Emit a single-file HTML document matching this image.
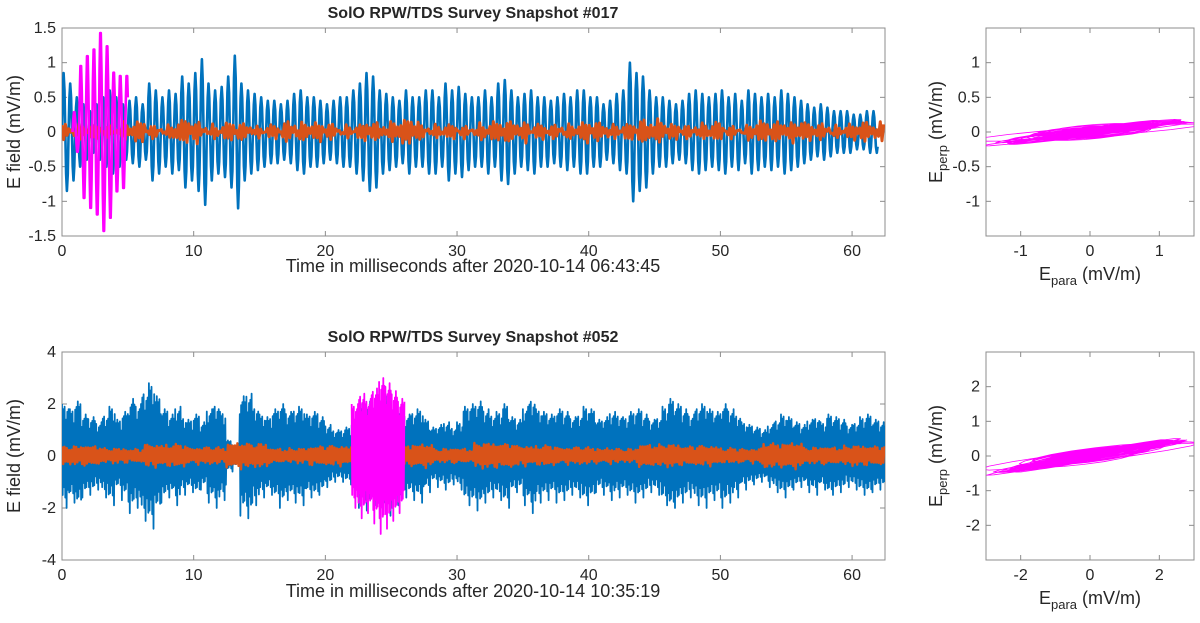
<!DOCTYPE html>
<html><head><meta charset="utf-8"><style>
body{margin:0;background:#fff;width:1200px;height:618px;overflow:hidden}
svg text{font-family:"Liberation Sans",Arial,sans-serif;fill:#262626}
</style></head><body>
<svg id="c" width="1200" height="618" viewBox="0 0 1200 618" xmlns="http://www.w3.org/2000/svg"></svg>
<script>
// ---- data (amplitudes, mV/m) ----
const topBlueAmp=[0.85,0.7,0.5,0.4,0.3,0.4,0.5,0.6,0.5,0.4,0.45,0.5,0.4,0.7,0.6,0.5,0.6,0.55,0.8,0.7,0.85,1.05,0.7,0.6,0.65,0.8,1.1,0.7,0.6,0.55,0.5,0.45,0.45,0.4,0.45,0.55,0.6,0.5,0.5,0.45,0.4,0.45,0.5,0.5,0.6,0.7,0.85,0.8,0.6,0.55,0.5,0.45,0.6,0.5,0.5,0.6,0.6,0.5,0.7,0.6,0.65,0.55,0.5,0.5,0.6,0.5,0.7,0.75,0.6,0.5,0.55,0.6,0.5,0.5,0.45,0.5,0.55,0.5,0.6,0.6,0.5,0.5,0.4,0.45,0.55,0.6,1.0,0.85,0.8,0.6,0.5,0.5,0.45,0.4,0.45,0.55,0.6,0.55,0.5,0.55,0.6,0.5,0.55,0.45,0.6,0.55,0.5,0.55,0.5,0.6,0.55,0.5,0.45,0.4,0.35,0.4,0.35,0.3,0.3,0.3,0.25,0.25,0.3,0.3];
const topOrangeAmp=[0.08,0.05,0.1,0.06,0.12,0.07,0.09,0.05,0.11,0.08,0.06,0.1,0.13,0.07,0.05,0.09,0.12,0.06,0.08,0.1,0.07,0.14,0.06,0.09,0.05,0.1,0.12,0.08,0.06,0.11];
const topMagentaStart=0.8, topMagentaPeriod=0.5;
const topMagentaAmp=[0.3,1.0,1.15,1.25,1.5,1.3,0.9,0.85,0.85];
const botBlueEnv=[2.0,1.8,2.1,1.6,1.5,1.3,1.6,1.9,1.4,1.7,2.2,2.0,2.5,2.8,2.3,1.8,1.6,1.9,1.5,1.4,1.6,1.3,1.8,2.0,1.7,0.6,0.4,2.3,2.4,1.9,1.6,1.5,1.8,2.0,1.7,1.8,1.9,1.6,1.7,1.5,1.2,1.0,1.0,1.1,1.4,2.0,2.1,1.9,2.0,2.3,1.8,1.9,1.6,1.7,1.8,1.4,1.1,1.2,1.3,1.1,1.3,1.9,2.0,2.1,1.8,1.6,1.7,2.0,1.5,1.4,1.9,2.2,1.8,1.7,1.6,1.8,1.7,1.5,1.6,1.9,1.8,1.4,1.5,1.7,1.6,1.5,1.7,1.8,1.6,1.4,1.5,1.9,2.2,2.0,1.8,1.6,1.9,2.0,1.8,1.7,2.0,1.8,1.6,1.3,1.2,1.1,1.0,1.2,1.4,1.6,1.5,1.3,1.2,1.4,1.5,1.3,1.6,1.5,1.4,1.2,1.3,1.5,1.6,1.4,1.3];
const botOrangeEnv=[0.35,0.25,0.4,0.3,0.45,0.25,0.35,0.3,0.4,0.25,0.45,0.35,0.3,0.25,0.4,0.35,0.25,0.45,0.3,0.35];
const botMagentaStart=22, botMagentaEnd=26;
const botMagentaEnv=[2.0,2.4,2.2,2.6,3.0,2.8,2.5,2.2];
const modulation=[1,0.75,0.9,0.6,0.95,0.8,0.7,1,0.85,0.65,0.9,0.78];
const offsets=[0.02,-0.05,0.04,0.0,-0.03,0.06,-0.02,0.03,-0.06,0.01,0.05,-0.04,0.0];
const xTicks=[0,10,20,30,40,50,60];
const topYTicks=[-1.5,-1,-0.5,0,0.5,1,1.5];
const botYTicks=[-4,-2,0,2,4];
const hodoTopTicks=[-1,-0.5,0,0.5,1];
const hodoTopX=[-1,0,1];
const hodoBotTicks=[-2,-1,0,1,2];
const hodoBotX=[-2,0,2];

const NS='http://www.w3.org/2000/svg';
const svg=document.getElementById('c');
function el(t,a,p){const e=document.createElementNS(NS,t);for(const k in a)e.setAttribute(k,a[k]);(p||svg).appendChild(e);return e;}
function lin(d0,d1,r0,r1){return v=>r0+(v-d0)/(d1-d0)*(r1-r0);}

function axesBox(x0,y0,x1,y1,xs,ys,xt,yt,name){
  const g=el('g',{});
  
  
  el('rect',{x:x0,y:y0,width:x1-x0,height:y1-y0,fill:'none',stroke:'#8c8c8c','stroke-width':1},g);
  xt.forEach(v=>{const X=xs(v);
    el('line',{x1:X,x2:X,y1:y1,y2:y1-5,stroke:'#8c8c8c'},g);
    el('line',{x1:X,x2:X,y1:y0,y2:y0+5,stroke:'#8c8c8c'},g);
    const t=el('text',{x:X,y:y1+20,'text-anchor':'middle','font-size':16},g);t.textContent=v;
    
    });
  yt.forEach(v=>{const Y=ys(v);
    el('line',{x1:x0,x2:x0+5,y1:Y,y2:Y,stroke:'#8c8c8c'},g);
    el('line',{x1:x1,x2:x1-5,y1:Y,y2:Y,stroke:'#8c8c8c'},g);
    const t=el('text',{x:x0-6,y:Y+5,'text-anchor':'end','font-size':16},g);t.textContent=v;
    
    });
}
function poly(pts,color,w,name,clip){
  const p=el('polyline',{points:pts.map(q=>q[0].toFixed(1)+','+q[1].toFixed(1)).join(' '),fill:'none',stroke:color,'stroke-width':w,'stroke-linejoin':'round','clip-path':clip||''});
  
  
  return p;
}
function osc(ampArr,t0,period,sub,xs,ys,tEnd){
  const pts=[];const n=ampArr.length;
  for(let i=0;i<n;i++){for(let k=0;k<sub;k++){const ph=k/sub;const t=t0+(i+ph)*period;if(tEnd!==undefined&&t>tEnd)break;
    pts.push([xs(t),ys(ampArr[i]*Math.sin(2*Math.PI*ph))]);}}
  return pts;
}
function carrier(env,envDt,t0,t1,half,xs,ys,withOffset){
  const pts=[];let i=0;
  for(let t=t0;t<=t1;t+=half,i++){const e=env[Math.min(env.length-1,Math.floor((t-t0)/envDt))];
    const off=withOffset?offsets[i%offsets.length]:0;
    pts.push([xs(t),ys((i%2?-1:1)*e*modulation[i%modulation.length]+off)]);}
  return pts;
}
function title(x,y,s){const t=el('text',{x:x,y:y,'text-anchor':'middle','font-size':16,'font-weight':'bold','fill':'#000'});t.textContent=s;}
function label(x,y,s,rot,name){const t=el('text',{x:x,y:y,'text-anchor':'middle','font-size':18,transform:rot?`rotate(-90 ${x} ${y})`:''});t.innerHTML=s;}

const defs=el('defs',{});
[[62,28,885,236,'c1'],[62,352,885,560,'c2'],[986,28,1194,236,'c3'],[986,352,1194,560,'c4']].forEach(a=>{const cp=el('clipPath',{id:a[4]},defs);el('rect',{x:a[0],y:a[1],width:a[2]-a[0],height:a[3]-a[1]},cp);});

// ---- top main ----
{const xs=lin(0,62.5,62,885),ys=lin(-1.5,1.5,236,28);
 axesBox(62,28,885,236,xs,ys,xTicks,topYTicks,'top-waveform-axes');
 poly(osc(topBlueAmp,0,0.5,8,xs,ys,62.5),'#0072BD',2.6,'top-blue-series','url(#c1)');
 poly(carrier(topOrangeAmp,62.5/topOrangeAmp.length,0,62.5,0.13,xs,ys,true),'#D95319',3,'top-orange-series','url(#c1)');
 poly(osc(topMagentaAmp,topMagentaStart,topMagentaPeriod,10,xs,ys,5),'#FF00FF',2.6,'top-magenta-series','url(#c1)');
 title(473,18,'SolO RPW/TDS Survey Snapshot #017');
 label(473,272,'Time in milliseconds after 2020-10-14 06:43:45',false,'top-x-axis-title');
 label(20,132,'E field (mV/m)',true,'top-y-axis-title');}
// ---- bottom main ----
{const xs=lin(0,62.5,62,885),ys=lin(-4,4,560,352);
 axesBox(62,352,885,560,xs,ys,xTicks,botYTicks,'bottom-waveform-axes');
 poly(carrier(botBlueEnv,0.5,0,62.5,0.05,xs,ys),'#0072BD',1.8,'bottom-blue-series','url(#c2)');
 poly(carrier(botOrangeEnv,62.5/botOrangeEnv.length,0,62.5,0.09,xs,ys,true),'#D95319',2.4,'bottom-orange-series','url(#c2)');
 poly(carrier(botMagentaEnv,0.5,botMagentaStart,botMagentaEnd,0.04,xs,ys),'#FF00FF',1.8,'bottom-magenta-series','url(#c2)');
 title(473,342,'SolO RPW/TDS Survey Snapshot #052');
 label(473,597,'Time in milliseconds after 2020-10-14 10:35:19',false,'bottom-x-axis-title');
 label(20,456,'E field (mV/m)',true,'bottom-y-axis-title');}
// ---- hodograms ----
function hodo(x0,y0,x1,y1,r,yt,xt,amp,tilt,width,name,clip){
  const xs=lin(-r,r,x0,x1),ys=lin(-r,r,y1,y0);
  axesBox(x0,y0,x1,y1,xs,ys,xt,yt,name+'-axes');
  const pts=[];
  amp.forEach((a,i)=>{for(let j=0;j<3;j++){const m=modulation[(i*3+j)%modulation.length];const o=offsets[(i*3+j)%offsets.length];
    for(let k=0;k<=16;k++){const ph=2*Math.PI*k/16;const p=a*m*Math.cos(ph)+o*r;const q=tilt*p+width*r*Math.sin(ph+j)+o*r*0.4;pts.push([xs(p),ys(q)]);}}});
  poly(pts,'#FF00FF',0.8,name+'-trace','url(#'+clip+')');
  const cx=(x0+x1)/2;
  label(cx,y1+44,'E<tspan font-size="13" dy="5">para</tspan><tspan dy="-5"> (mV/m)</tspan>',false,name+'-x-axis-title');
  label(x0-44,(y0+y1)/2,'E<tspan font-size="13" dy="5">perp</tspan><tspan dy="-5"> (mV/m)</tspan>',true,name+'-y-axis-title');
}
hodo(986,28,1194,236,1.5,hodoTopTicks,hodoTopX,topMagentaAmp.map(a=>a*1.1),0.07,0.045,'top-hodogram','c3');
hodo(986,352,1194,560,3,hodoBotTicks,hodoBotX,botMagentaEnv.map(a=>a*1.05),0.12,0.05,'bottom-hodogram','c4');
</script>
</body></html>
